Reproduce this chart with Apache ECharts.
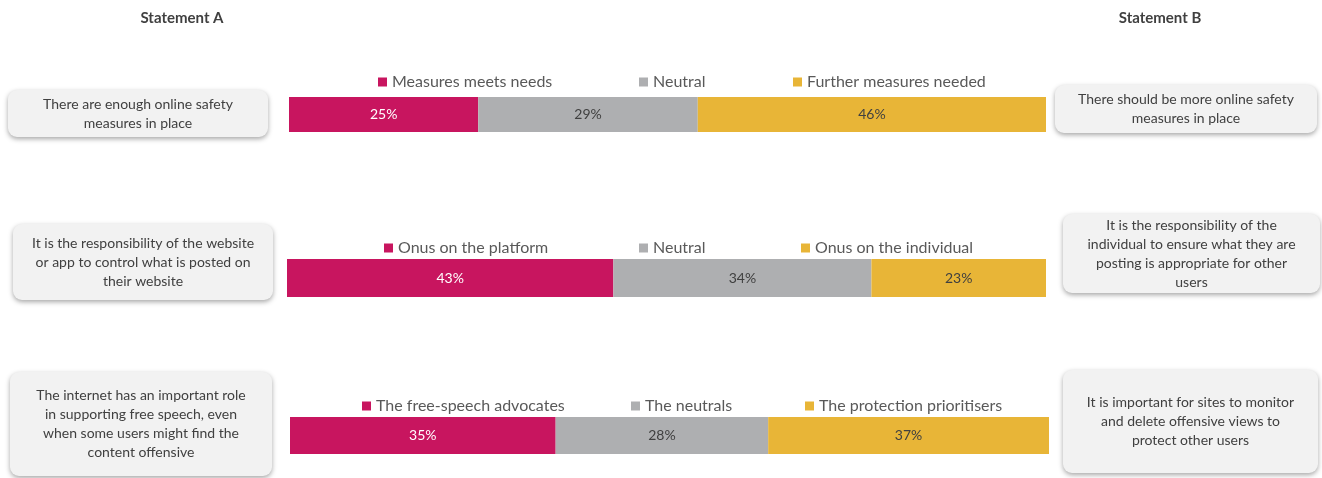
<!DOCTYPE html>
<html>
<head>
<meta charset="utf-8">
<script src="https://cdn.jsdelivr.net/npm/echarts@6/dist/echarts.min.js"></script>
<style>
  html, body { margin: 0; padding: 0; background: #ffffff; }
  #chart { width: 1322px; height: 478px; }
</style>
</head>
<body>
<div id="chart"></div>
<script>
// Survey results: three statement pairs, each split into three response groups (%)
const row1Names = ['Measures meets needs', 'Neutral', 'Further measures needed'];
const row1Values = [25, 29, 46];
const row2Names = ['Onus on the platform', 'Neutral', 'Onus on the individual'];
const row2Values = [43, 34, 23];
const row3Names = ['The free-speech advocates', 'The neutrals', 'The protection prioritisers'];
const row3Values = [35, 28, 37];

const statementA = [
  'There are enough online safety\nmeasures in place',
  'It is the responsibility of the website\nor app to control what is posted on\ntheir website',
  'The internet has an important role\nin supporting free speech, even\nwhen some users might find the\ncontent offensive'
];
const statementB = [
  'There should be more online safety\nmeasures in place',
  'It is the responsibility of the\nindividual to ensure what they are\nposting is appropriate for other\nusers',
  'It is important for sites to monitor\nand delete offensive views to\nprotect other users'
];
const headings = ['Statement A', 'Statement B'];

const FONT = 'Lato, "Open Sans", sans-serif';
const TEXT = '#404040';
const colors = ['#C8155F', '#AEAFB1', '#E8B537'];

const rows = [
  { names: row1Names, values: row1Values },
  { names: row2Names, values: row2Values },
  { names: row3Names, values: row3Values }
];

// Plot area of each bar
const grids = [
  { left: 289, right: 276, top: 97, height: 35 },
  { left: 287, right: 276, top: 259, height: 38 },
  { left: 290, right: 273, top: 417, height: 37 }
];
// Left edge of each legend item, per row
const legendLeft = [[378, 639, 793], [384, 639, 801], [362, 631, 805]];
const legendTop = [74, 240, 398];

const series = [];
const legends = [];
rows.forEach((row, r) => {
  row.names.forEach((name, i) => {
    series.push({
      type: 'bar',
      name: name,
      xAxisIndex: r,
      yAxisIndex: r,
      stack: 'row' + r,
      barWidth: '100%',
      data: [row.values[i]],
      itemStyle: { color: colors[i] },
      label: {
        show: true,
        position: 'inside',
        formatter: '{c}%',
        color: i === 0 ? '#ffffff' : TEXT,
        fontFamily: FONT,
        fontSize: 14
      },
      emphasis: { disabled: true },
      silent: true,
      animation: false
    });
    legends.push({
      data: [name],
      left: legendLeft[r][i],
      top: legendTop[r],
      padding: 0,
      itemWidth: 9,
      itemHeight: 9,
      icon: 'rect',
      selectedMode: false,
      textStyle: { color: '#595959', fontFamily: FONT, fontSize: 16 }
    });
  });
});

// Rounded statement boxes with soft shadows
const boxes = [
  { side: 0, x: 8, y: 90, w: 260, h: 47 },
  { side: 0, x: 13, y: 224, w: 260, h: 76 },
  { side: 0, x: 10, y: 372, w: 262, h: 104 },
  { side: 1, x: 1055, y: 85, w: 262, h: 48 },
  { side: 1, x: 1063, y: 214, w: 257, h: 79 },
  { side: 1, x: 1063, y: 370, w: 255, h: 103 }
];
const graphic = [];
boxes.forEach((b, k) => {
  const txt = b.side === 0 ? statementA[k] : statementB[k - 3];
  graphic.push({
    type: 'rect',
    shape: { x: b.x, y: b.y, width: b.w, height: b.h, r: 9 },
    style: {
      fill: '#F2F2F2',
      shadowBlur: 5,
      shadowOffsetX: 0,
      shadowOffsetY: 2,
      shadowColor: 'rgba(0,0,0,0.35)'
    },
    silent: true
  });
  graphic.push({
    type: 'text',
    x: b.x + b.w / 2,
    y: b.y + b.h / 2,
    style: {
      text: txt,
      align: 'center',
      verticalAlign: 'middle',
      fill: TEXT,
      font: '14px ' + FONT,
      lineHeight: 19
    },
    silent: true
  });
});
graphic.push({
  type: 'text', x: 182, y: 18,
  style: { text: headings[0], align: 'center', verticalAlign: 'middle', fill: TEXT, font: 'bold 15px ' + FONT }
});
graphic.push({
  type: 'text', x: 1160, y: 18,
  style: { text: headings[1], align: 'center', verticalAlign: 'middle', fill: TEXT, font: 'bold 15px ' + FONT }
});

const option = {
  backgroundColor: '#ffffff',
  animation: false,
  grid: grids,
  xAxis: grids.map((g, r) => ({
    type: 'value', gridIndex: r, min: 0, max: 100, show: false
  })),
  yAxis: grids.map((g, r) => ({
    type: 'category', gridIndex: r, data: ['row' + r], show: false
  })),
  legend: legends,
  series: series,
  graphic: graphic
};

const chart = echarts.init(document.getElementById('chart'), null, { renderer: 'canvas' });
chart.setOption(option);
</script>
</body>
</html>
